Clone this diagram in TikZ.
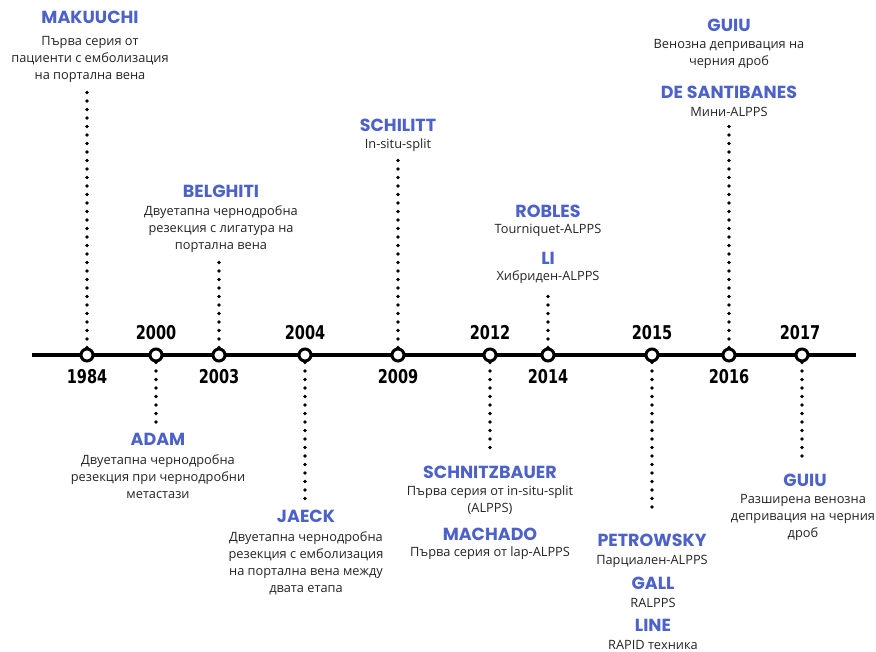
\documentclass[tikz,border=0pt]{standalone}
\usepackage{fontspec}
\setmainfont{Open Sans}
\newfontfamily\namefont{Poppins}
\newfontfamily\yearfont{DejaVu Sans Condensed}[FakeStretch=0.85]
\usepackage{tikz}
\usetikzlibrary{positioning}

\definecolor{nameblue}{RGB}{76,98,200}
\definecolor{textgray}{RGB}{35,35,35}

\tikzset{
    tick/.style={circle, draw, line width=3pt, fill=white, minimum size=12pt, inner sep=0pt},
    year/.style={font=\yearfont\bfseries\fontsize{19}{19}\selectfont, inner sep=0pt},
    who/.style={font=\namefont\bfseries\fontsize{17.5}{18}\selectfont, text=nameblue,
                inner sep=0pt, text height=0.7em, text depth=0pt, yshift=-1.5pt},
    what/.style={font=\fontsize{12.8}{17}\selectfont, text=textgray, align=center, inner sep=0pt},
    dots/.style={line width=3.6pt, line cap=round, dash pattern=on 0pt off 8.5pt}
}

\begin{document}
\begin{tikzpicture}[x=1pt, y=-1pt]
    \useasboundingbox (0,0) rectangle (876,652);

    % Axis
    \coordinate (start) at (32,355);
    \coordinate (end) at (856,355);
    \draw[line width=4pt] (start) -- (end);

    % Ticks
    \foreach \yr/\x in {1984/87, 2000/156, 2003/219, 2004/305, 2009/398,
                        2012/490, 2014/548, 2015/652, 2016/729, 2017/802}
        \node[tick] (c\yr) at (\x,355) {};

    % Years
    \foreach \yr/\x in {2000/156, 2004/305, 2012/490, 2015/652, 2017/800}
        \node[year] (y\yr) at (\x,333) {\yr};
    \foreach \yr/\x in {1984/87, 2003/219, 2009/398, 2014/548, 2016/729}
        \node[year] (y\yr) at (\x,377) {\yr};

    % Ends of the dotted lines
    \coordinate (t1984) at (87,88);
    \coordinate (t2003) at (219,262);
    \coordinate (t2009) at (398,155);
    \coordinate (t2014) at (548,292);
    \coordinate (t2016) at (729,120);
    \coordinate (b2000) at (156,424);
    \coordinate (b2004) at (305,505);
    \coordinate (b2012) at (490,455);
    \coordinate (b2015) at (652,510);
    \coordinate (b2017) at (802,463);

    \foreach \yr in {1984, 2003, 2009, 2014, 2016}
        \draw[dots] (c\yr.north) -- (t\yr);
    \foreach \yr in {2000, 2004, 2012, 2015, 2017}
        \draw[dots] (c\yr.south) -- (b\yr);

    % Above the axis
    \node[who] (makuuchi) at (90,19) {MAKUUCHI};
    \node[what] (makuuchiText) at (90,59) {Първа серия от\\пациенти с емболизация\\на портална вена};

    \node[who] (belghiti) at (221,193) {BELGHITI};
    \node[what] (belghitiText) at (221,229.5) {Двуетапна чернодробна\\резекция с лигатура на\\портална вена};

    \node[who] (schilitt) at (398,127) {SCHILITT};
    \node[what] (schilittText) at (398,145) {In-situ-split};

    \node[who] (robles) at (548,213) {ROBLES};
    \node[what] (roblesText) at (548,230.5) {Tourniquet-ALPPS};

    \node[who] (li) at (548,260) {LI};
    \node[what] (liText) at (548,277) {Хибриден-ALPPS};

    \node[who] (guiuA) at (729,27) {GUIU};
    \node[what] (guiuAText) at (729,54) {Венозна депривация на\\черния дроб};

    \node[who] (santibanes) at (729,94) {DE SANTIBANES};
    \node[what] (santibanesText) at (729,111.5) {Мини-ALPPS};

    % Below the axis
    \node[who] (adam) at (158,441) {ADAM};
    \node[what] (adamText) at (158,476.5) {Двуетапна чернодробна\\резекция при чернодробни\\метастази};

    \node[who] (jaeck) at (306,517) {JAECK};
    \node[what] (jaeckText) at (306,563.5) {Двуетапна чернодробна\\резекция с емболизация\\на портална вена между\\двата етапа};

    \node[who] (schnitzbauer) at (490,473) {SCHNITZBAUER};
    \node[what] (schnitzbauerText) at (490,500) {Първа серия от in-situ-split\\(ALPPS)};

    \node[who] (machado) at (490,535) {MACHADO};
    \node[what] (machadoText) at (490,553.5) {Първа серия от lap-ALPPS};

    \node[who] (petrowsky) at (652,541) {PETROWSKY};
    \node[what] (petrowskyText) at (652,561) {Парциален-ALPPS};

    \node[who] (gall) at (653,584) {GALL};
    \node[what] (gallText) at (653,603) {RALPPS};

    \node[who] (line) at (653,626) {LINE};
    \node[what] (lineText) at (653,644.5) {RAPID техника};

    \node[who] (guiuB) at (805,481) {GUIU};
    \node[what] (guiuBText) at (803,517.5) {Разширена венозна\\депривация на черния\\дроб};
\end{tikzpicture}
\end{document}
